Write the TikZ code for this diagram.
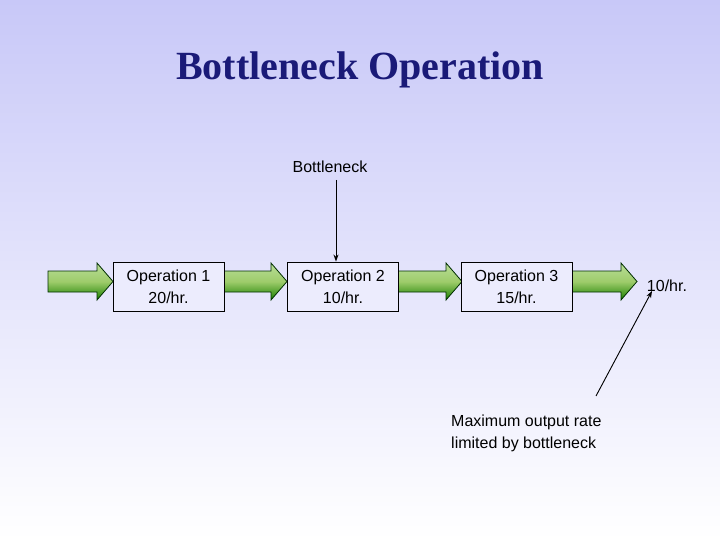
\documentclass[tikz,border=0pt]{standalone}
\usepackage{fontspec}
\setmainfont{Liberation Sans}
\newfontfamily\titlefont{Liberation Serif}
\usetikzlibrary{arrows.meta,shadings}
\definecolor{navy}{RGB}{26,26,120}
\definecolor{lav}{RGB}{200,200,248}
\tikzset{
  opbox/.style={draw=black,line width=0.9pt,fill=lav!35!white,minimum width=111pt,minimum height=49pt,inner sep=0pt,align=center,font=\fontsize{16pt}{22pt}\selectfont},
  lbl/.style={font=\fontsize{16pt}{22pt}\selectfont,inner sep=0pt},
  conn/.style={line width=0.9pt,-{Stealth[length=7pt,width=5pt]}},
  barrow/.style={draw=black!70!green!60!black,line width=0.8pt,top color=green!35!olive!40!white,bottom color=green!50!black!80!olive,middle color=white!70!green!60!olive}
}
\newcommand{\blockarrow}[1]{%
  \path[barrow] (#1,271) -- ++(49,0) -- ++(0,-8) -- ++(16,18.5) -- ++(-16,18.5) -- ++(0,-8) -- ++(-49,0) -- cycle;}
\begin{document}
\begin{tikzpicture}[x=1pt,y=-1pt]
\useasboundingbox (0,0) rectangle (720,540);
\shade[top color=lav,bottom color=white] (0,0) rectangle (720,540);
\node[font=\titlefont\bfseries\fontsize{40pt}{46pt}\selectfont,text=navy] (title) at (360,70) {Bottleneck Operation};
\blockarrow{48}
\blockarrow{222}
\blockarrow{397}
\blockarrow{572}
\node[opbox] (op1) at (168.5,286.5) {Operation 1\\20/hr.};
\node[opbox] (op2) at (343,286.5) {Operation 2\\10/hr.};
\node[opbox] (op3) at (516.5,286.5) {Operation 3\\15/hr.};
\node[lbl] (bn) at (330,167) {Bottleneck};
\draw[conn] (336,180) -- (op2.north -| 336,0);
\node[lbl] (out) at (667,286) {10/hr.};
\coordinate (lstart) at (596,396);
\draw[conn] (lstart) -- (652,291);
\node[lbl,align=left,anchor=west] (max) at (451,433) {Maximum output rate\\limited by bottleneck};
\end{tikzpicture}
\end{document}
